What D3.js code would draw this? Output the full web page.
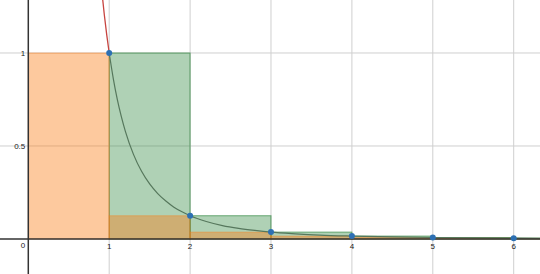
<!DOCTYPE html>
<html><head><meta charset="utf-8">
<script src="https://cdn.jsdelivr.net/npm/d3@7"></script>
<style>html,body{margin:0;padding:0;background:#fff;overflow:hidden}</style>
</head><body>
<svg id="c" width="540" height="274"></svg>
<script>
// Data
const pointX = [1, 2, 3, 4, 5, 6, 7];
const pointY = [1, 0.125, 0.037, 0.0156, 0.008, 0.0046, 0.0029];
// curve readings (x, y)
const curveX = [0.91, 0.94, 0.97, 1, 1.05, 1.1, 1.15, 1.2, 1.3, 1.4, 1.5, 1.6, 1.7, 1.8, 1.9, 2, 2.2, 2.4, 2.6, 2.8, 3, 3.3, 3.6, 4, 4.5, 5, 5.5, 6, 6.4];
const curveY = [1.327, 1.204, 1.096, 1, 0.864, 0.751, 0.658, 0.579, 0.455, 0.364, 0.296, 0.244, 0.204, 0.171, 0.146, 0.125, 0.094, 0.072, 0.057, 0.046, 0.037, 0.028, 0.021, 0.0156, 0.011, 0.008, 0.006, 0.0046, 0.0038];
const xTicks = [1, 2, 3, 4, 5, 6];
const yTicks = [0.5, 1];
const yTickLabels = ["0.5", "1"];

const W = 540, H = 274;
const x = d3.scaleLinear().domain([-0.3498, 6.3251]).range([0, W]);
const y = d3.scaleLinear().domain([-0.1882, 1.2849]).range([H, 0]);

const svg = d3.select("#c");

// grid
svg.append("g").selectAll("line").data(d3.range(1, 7)).join("line")
  .attr("x1", d => x(d)).attr("x2", d => x(d)).attr("y1", 0).attr("y2", H)
  .attr("stroke", "#cfcfcf").attr("stroke-width", 1);
svg.append("g").selectAll("line").data(yTicks).join("line")
  .attr("x1", 0).attr("x2", W).attr("y1", d => y(d)).attr("y2", d => y(d))
  .attr("stroke", "#cfcfcf").attr("stroke-width", 1);

// curve (red part above x=1)
const pts = curveX.map((v, i) => [v, curveY[i]]);
const line = d3.line().x(d => x(d[0])).y(d => y(d[1])).curve(d3.curveMonotoneX);
svg.append("path").datum(pts.filter(p => p[0] <= 1))
  .attr("d", line).attr("fill", "none").attr("stroke", "#c74440").attr("stroke-width", 1.3);

// green rectangles (left endpoint)
const green = pointX.map((v, i) => ({x0: v, x1: v + 1, h: pointY[i]}));
svg.append("g").selectAll("rect").data(green).join("rect")
  .attr("x", d => x(d.x0)).attr("width", d => x(d.x1) - x(d.x0))
  .attr("y", d => y(d.h)).attr("height", d => y(0) - y(d.h))
  .attr("fill", "#388c46").attr("fill-opacity", 0.4)
  .attr("stroke", "#388c46").attr("stroke-opacity", 0.7).attr("stroke-width", 1);

// orange rectangles (right endpoint)
const orange = pointX.map((v, i) => ({x0: v - 1, x1: v, h: pointY[i]}));
svg.append("g").selectAll("rect").data(orange).join("rect")
  .attr("x", d => x(d.x0)).attr("width", d => x(d.x1) - x(d.x0))
  .attr("y", d => y(d.h)).attr("height", d => y(0) - y(d.h))
  .attr("fill", "#fa7e19").attr("fill-opacity", 0.42)
  .attr("stroke", "#fa7e19").attr("stroke-opacity", 0.4).attr("stroke-width", 1);

// curve part under fills
svg.append("path").datum(pts.filter(p => p[0] >= 1))
  .attr("d", line).attr("fill", "none").attr("stroke", "#56775c").attr("stroke-width", 1.2);

// axes
svg.append("line").attr("x1", 0).attr("x2", W).attr("y1", y(0)).attr("y2", y(0))
  .attr("stroke", "#333").attr("stroke-width", 1.5);
svg.append("line").attr("x1", x(0)).attr("x2", x(0)).attr("y1", 0).attr("y2", H)
  .attr("stroke", "#333").attr("stroke-width", 1.5);

// points
svg.append("g").selectAll("circle").data(pointX.map((v, i) => [v, pointY[i]])).join("circle")
  .attr("cx", d => x(d[0])).attr("cy", d => y(d[1])).attr("r", 3)
  .attr("fill", "#2d70b3");

// tick labels
const font = "Arial, 'Liberation Sans', sans-serif";
svg.append("g").selectAll("text").data(xTicks).join("text")
  .attr("x", d => x(d)).attr("y", y(0) + 10)
  .attr("text-anchor", "middle").attr("font-family", font).attr("font-size", 8)
  .attr("fill", "#222").text(d => d);
svg.append("g").selectAll("text").data(yTicks).join("text")
  .attr("x", x(0) - 3).attr("y", d => y(d) + 3)
  .attr("text-anchor", "end").attr("font-family", font).attr("font-size", 8)
  .attr("fill", "#222").text((d, i) => yTickLabels[i]);
svg.append("text").attr("x", x(0) - 3).attr("y", y(0) + 9)
  .attr("text-anchor", "end").attr("font-family", font).attr("font-size", 8)
  .attr("fill", "#222").text("0");
</script>
</body></html>
